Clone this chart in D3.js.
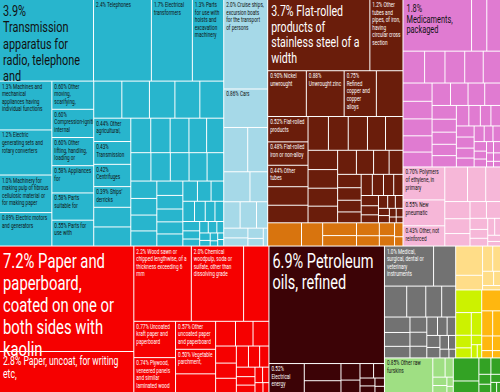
<!DOCTYPE html>
<html>
<head>
<meta charset="utf-8">
<script src="https://cdn.jsdelivr.net/npm/d3@7"></script>
<style>
  body { margin: 0; background: #fff; }
  svg { display: block; }
  text { font-family: Roboto, "Liberation Sans", sans-serif; }
</style>
</head>
<body>
<div id="chart"></div>
<script>
var width = 500, height = 392;

// share of exports in %, [name, value]; unnamed small products are plain values
var machines = [
  ["Transmission apparatus for radio, telephone and", 3.9],
  ["Telephones", 2.4],
  ["Electrical transformers", 1.7],
  ["Parts for use with hoists and excavation machinery", 1.3],
  ["Machines and mechanical appliances having individual functions", 1.3],
  ["Electric generating sets and rotary converters", 1.2],
  ["Machinery for making pulp of fibrous cellulosic material or for making paper", 1.0],
  ["Electric motors and generators", 0.89],
  ["Other moving, scarifying, excavating", 0.60],
  ["Compression-ignition internal", 0.60],
  ["Other lifting, handling, loading or unloading", 0.60],
  ["Appliances for", 0.58],
  ["Parts suitable for", 0.58],
  ["Parts for use with", 0.55],
  ["Other agricultural,", 0.44],
  ["Transmission shafts", 0.43],
  ["Centrifuges", 0.42],
  ["Ships' derricks", 0.39]
];
var machinesSmall = [0.53, 0.52, 0.48, 0.47, 0.45, 0.37, 0.36, 0.35, 0.34, 0.33, 0.31, 0.30, 0.29,
  0.28, 0.27, 0.26, 0.24, 0.23, 0.22, 0.21, 0.20, 0.19, 0.18, 0.17, 0.16, 0.16, 0.15, 0.14, 0.13,
  0.12, 0.11, 0.10, 0.09, 0.08, 0.07, 0.06, 0.05, 0.05, 0.04, 0.04, 0.03, 0.03, 0.02, 0.02, 0.02];

var transport = [
  ["Cruise ships, excursion boats for the transport of persons", 2.0],
  ["Cars", 0.86]
];
var transportSmall = [0.54, 0.45, 0.40, 0.27, 0.22, 0.22, 0.15, 0.12, 0.10, 0.08, 0.06, 0.04];

var metals = [
  ["Flat-rolled products of stainless steel of a width", 3.7],
  ["Other tubes and pipes, of iron, having circular cross section", 1.2],
  ["Nickel unwrought", 0.90],
  ["Unwrought zinc", 0.88],
  ["Refined copper and copper alloys", 0.75],
  ["Flat-rolled products", 0.52],
  ["Flat-rolled iron or non-alloy", 0.48],
  ["Other tubes", 0.44]
];
var metalsSmall = [0.62, 0.38, 0.36, 0.35, 0.34, 0.33, 0.31, 0.30, 0.29, 0.28, 0.27, 0.25, 0.23,
  0.21, 0.19, 0.17, 0.16, 0.15, 0.14, 0.13, 0.12, 0.12, 0.11, 0.10, 0.09, 0.08, 0.07, 0.06, 0.05,
  0.05, 0.04, 0.04, 0.03, 0.03, 0.02, 0.02];

var preciousSmall = [0.40, 0.25, 0.22, 0.18, 0.15, 0.12, 0.10, 0.08, 0.06, 0.04];

var chemicals = [["Medicaments, packaged", 1.8]];
var chemicalsSmall = [0.40, 0.36, 0.35, 0.33, 0.32, 0.30, 0.28, 0.27, 0.26, 0.25, 0.24, 0.22, 0.21,
  0.20, 0.19, 0.18, 0.17, 0.16, 0.15, 0.14, 0.14, 0.13, 0.12, 0.11, 0.10, 0.10, 0.10, 0.09, 0.08,
  0.08, 0.07, 0.06, 0.06, 0.05, 0.05, 0.04, 0.04, 0.03, 0.03, 0.02, 0.02];

var plastics = [
  ["Polymers of ethylene, in primary", 0.70],
  ["New pneumatic", 0.55],
  ["Other, not reinforced", 0.43]
];
var plasticsSmall = [0.40, 0.32, 0.26, 0.22, 0.19, 0.16, 0.14, 0.12, 0.10, 0.08, 0.07, 0.06, 0.05, 0.04, 0.03];

var paper = [
  ["Paper and paperboard, coated on one or both sides with kaolin", 7.2],
  ["Paper, uncoat, for writing etc,", 2.8],
  ["Wood sawn or chipped lengthwise, of a thickness exceeding 6 mm", 2.2],
  ["Chemical woodpulp, soda or sulfate, other than dissolving grade", 2.0],
  ["Uncoated kraft paper and paperboard", 0.77],
  ["Plywood, veneered panels and similar laminated wood", 0.74],
  ["Other uncoated paper and paperboard", 0.57],
  ["Vegetable parchment, greaseproof papers", 0.50]
];
var paperSmall = [0.97, 0.38, 0.25, 0.22, 0.20, 0.18, 0.16, 0.15, 0.13, 0.12, 0.10, 0.09, 0.08,
  0.07, 0.06, 0.05, 0.04, 0.03];

var mineral = [["Petroleum oils, refined", 6.9], ["Electrical energy", 0.52]];
var mineralSmall = [0.32, 0.22, 0.16, 0.12, 0.10, 0.08, 0.06, 0.05, 0.04, 0.03];

var instruments = [["Medical, surgical, dental or veterinary instruments", 1.0]];
var instrumentsSmall = [0.45, 0.35, 0.30, 0.25, 0.22, 0.20, 0.18, 0.15, 0.13, 0.12, 0.10, 0.10,
  0.09, 0.08, 0.08, 0.07, 0.06, 0.05, 0.04, 0.03];

var animalSmall = [0.40, 0.20, 0.13, 0.10, 0.08, 0.05, 0.04];
var foodSmall = [0.30, 0.18, 0.12, 0.10, 0.08, 0.05, 0.04, 0.03];
var textilesSmall = [0.20, 0.14, 0.10, 0.08, 0.06, 0.04, 0.03];
var hides = [["Other raw furskins", 0.85]];
var hidesSmall = [0.12, 0.08, 0.06, 0.05, 0.03, 0.02];
var vegetableSmall = [0.30, 0.15, 0.10, 0.08, 0.06, 0.05, 0.04, 0.03, 0.02];

var colors = {
  "Machines": "#28b5cd",
  "Transportation": "#a6d9e8",
  "Metals": "#6a1d0b",
  "Precious Metals": "#d8740e",
  "Chemical Products": "#e07bd1",
  "Plastics and Rubbers": "#f6b7d8",
  "Paper Goods": "#f60000",
  "Mineral Products": "#3c0306",
  "Instruments": "#727272",
  "Animal Products": "#ffdd88",
  "Foodstuffs": "#ccf200",
  "Textiles": "#ffb70f",
  "Animal Hides": "#9fdf83",
  "Vegetable Products": "#33a224"
};

function section(name, named, small) {
  return {
    name: name,
    color: colors[name],
    children: named.map(function(d) { return {name: d[0], value: d[1]}; })
      .concat(small.map(function(v) { return {name: "", value: v}; }))
  };
}

// how the sections are grouped: "row" = side by side, "col" = stacked
var tree = {layout: "col", children: [
  {layout: "row", children: [
    section("Machines", machines, machinesSmall),
    section("Transportation", transport, transportSmall),
    {layout: "col", children: [
      section("Metals", metals, metalsSmall),
      section("Precious Metals", [], preciousSmall)
    ]},
    {layout: "col", children: [
      section("Chemical Products", chemicals, chemicalsSmall),
      section("Plastics and Rubbers", plastics, plasticsSmall)
    ]}
  ]},
  {layout: "row", children: [
    section("Paper Goods", paper, paperSmall),
    section("Mineral Products", mineral, mineralSmall),
    {layout: "col", children: [
      {layout: "row", children: [
        section("Instruments", instruments, instrumentsSmall),
        {layout: "col", children: [
          section("Animal Products", [], animalSmall),
          {layout: "row", children: [
            section("Foodstuffs", [], foodSmall),
            section("Textiles", [], textilesSmall)
          ]}
        ]}
      ]},
      {layout: "row", children: [
        section("Animal Hides", hides, hidesSmall),
        section("Vegetable Products", [], vegetableSmall)
      ]}
    ]}
  ]}
]};

function tile(node, x0, y0, x1, y1) {
  var t = node.data.layout;
  if (t === "row") d3.treemapDice(node, x0, y0, x1, y1);
  else if (t === "col") d3.treemapSlice(node, x0, y0, x1, y1);
  else d3.treemapSquarify(node, x0, y0, x1, y1);
}

var root = d3.hierarchy(tree)
  .sum(function(d) { return d.children ? 0 : d.value; })
  .sort(function(a, b) { return a.children ? 0 : b.value - a.value; });

d3.treemap()
  .size([width, height])
  .tile(tile)
  .paddingInner(1)(root);

var svg = d3.select("#chart").append("svg")
  .attr("width", width)
  .attr("height", height)
  .style("background", "#fff");
var defs = svg.append("defs");

function colorOf(d) {
  while (d && !d.data.color) d = d.parent;
  return d ? d.data.color : "#ccc";
}

var leaves = root.leaves();

svg.selectAll("rect.cell")
  .data(leaves)
  .enter().append("rect")
    .attr("class", "cell")
    .attr("x", function(d) { return d.x0; })
    .attr("y", function(d) { return d.y0; })
    .attr("width", function(d) { return d.x1 - d.x0; })
    .attr("height", function(d) { return d.y1 - d.y0; })
    .attr("fill", colorOf);

// labels: the font is squeezed sideways to look like a narrow face
var pct = d3.format(".2r");
var measurer = svg.append("text").attr("visibility", "hidden");
function rawWidth(str, size) {
  measurer.attr("font-size", size).text(str);
  return measurer.node().getComputedTextLength();
}
var squeeze = 4.32 * 15 / rawWidth("Transmission", 15);
function textWidth(str, size) { return rawWidth(str, size) * squeeze; }
function wrap(words, size, maxW) {
  var lines = [], line = "";
  words.forEach(function(w) {
    var test = line ? line + " " + w : w;
    if (line && textWidth(test, size) > maxW) { lines.push(line); line = w; }
    else line = test;
  });
  if (line) lines.push(line);
  return lines;
}

leaves.forEach(function(d, i) {
  if (!d.data.name) return;
  var w = d.x1 - d.x0, h = d.y1 - d.y0;
  if (w < 28 || h < 14) return;
  var big = w >= 60;
  var size = big ? Math.min(Math.sqrt(w * h) * 0.175, h * 0.3) : 6.5;
  var lh = big ? size * 1.06 : 7.6;
  var pad = big ? 3 : 2;
  var words = (pct(d.data.value) + "% " + d.data.name).split(" ");
  var lines = wrap(words, size, w - pad * 2);
  if (!big) lines = lines.slice(0, Math.floor((h - 2) / lh));
  var fill = d3.lab(colorOf(d)).l > 55 ? "#111" : "#fff";

  var outer = svg.append("g");
  if (!big) {
    defs.append("clipPath").attr("id", "clip" + i)
      .append("rect")
        .attr("x", d.x0).attr("y", d.y0)
        .attr("width", w).attr("height", h);
    outer.attr("clip-path", "url(#clip" + i + ")");
  }
  var g = outer.append("g")
    .attr("transform", "translate(" + (d.x0 + pad) + "," + d.y0 + ") scale(" + squeeze + ",1)");
  g.selectAll("text")
    .data(lines)
    .enter().append("text")
      .attr("x", 0)
      .attr("y", function(l, j) { return (big ? size * 0.95 + 2 : 7) + j * lh; })
      .attr("font-size", size)
      .attr("fill", fill)
      .text(function(l) { return l; });
});
measurer.remove();
</script>
</body>
</html>
